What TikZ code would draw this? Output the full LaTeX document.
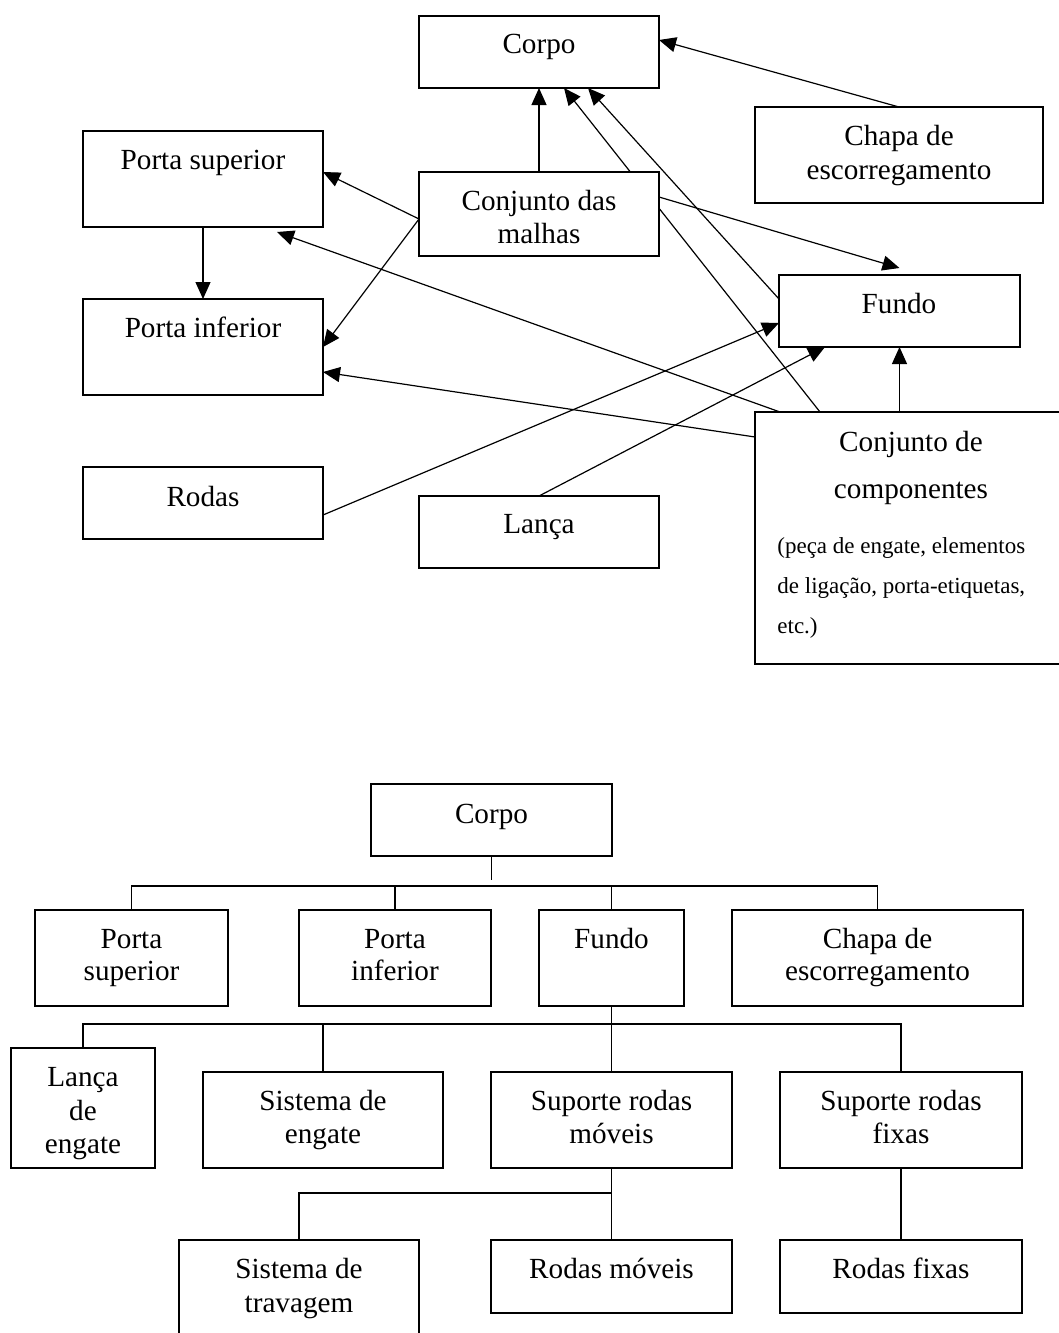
\documentclass[tikz,border=0pt]{standalone}
\usepackage{fontspec}
\setmainfont{Liberation Serif}
\usetikzlibrary{arrows.meta,calc,fit,backgrounds}

% one line of centred text, placed by its baseline
\newcommand{\putlbl}[4]{\node[lbl] (#1) at (#2,#3) {#4};}
% a framed box given by two opposite corners
\newcommand{\putbox}[5]{\node[box, fit={(#2,#3)(#4,#5)}] (#1) {};}

\begin{document}
\begin{tikzpicture}[x=0.5pt,y=-0.5pt,
  box/.style={draw, line width=0.65pt, fill=white, inner sep=0pt, outer sep=0pt},
  lbl/.style={anchor=base, inner sep=0pt, font=\fontsize{14.6pt}{17pt}\selectfont},
  small/.style={anchor=base west, inner sep=0pt, font=\fontsize{11.5pt}{14pt}\selectfont},
  link/.style={line width=0.6pt, -{Triangle[length=8.5pt,width=7.5pt]}},
  tree/.style={line width=0.55pt},
]
\useasboundingbox (0,0) rectangle (1059,1333);
\clip (0,0) rectangle (1059,1333);

% ---------------- upper diagram: relations between parts ----------------
\putbox{corpo}{419}{16}{659}{88}
\putbox{chapa}{755}{107}{1043}{203}
\putbox{psup}{83}{131}{323}{227}
\putbox{malhas}{419}{172}{659}{256}
\putbox{fundo}{779}{275}{1020}{347}
\putbox{pinf}{83}{299}{323}{395}
\putbox{rodas}{83}{467}{323}{539}
\putbox{lanca}{419}{496}{659}{568}
\putbox{comp}{755}{412}{1069}{664}

\begin{pgfonlayer}{background}
  \draw[link] (malhas.north) -- (corpo.south);
  \draw[link] (chapa.north) -- ($(corpo.east)+(0,-12)$);
  \draw[link] ($(comp.north west)+(65,0)$) -- ($(corpo.south)+(25,0)$);
  \draw[link] ($(fundo.north west)+(0,24)$) -- ($(corpo.south)+(49,0)$);
  \draw[link] ($(malhas.west)+(0,5)$) -- ($(psup.east)+(0,-7)$);
  \draw[link] ($(malhas.west)+(0,5)$) -- (pinf.east);
  \draw[link] (psup.south) -- (pinf.north);
  \draw[link] ($(comp.north west)+(25,0)$) -- ($(psup.south east)+(-46,5)$);
  \draw[link] ($(comp.north west)+(0,25)$) -- ($(pinf.east)+(0,25)$);
  \draw[link] ($(rodas.east)+(0,12)$) -- ($(fundo.west)+(0,12)$);
  \draw[link] (lanca.north) -- ($(fundo.south west)+(46,0)$);
  \draw[link] (fundo.south |- comp.north) -- (fundo.south);
  \draw[link] ($(malhas.east)+(0,-17)$) -- ($(fundo.north)+(0,-7)$);
\end{pgfonlayer}

\putlbl{t-corpo}{539}{54}{Corpo}
\putlbl{t-chapa1}{899}{145}{Chapa de}
\putlbl{t-chapa2}{899}{179}{escorregamento}
\putlbl{t-psup}{203}{169}{Porta superior}
\putlbl{t-malhas1}{539}{210}{Conjunto das}
\putlbl{t-malhas2}{539}{243}{malhas}
\putlbl{t-fundo}{899}{313}{Fundo}
\putlbl{t-pinf}{203}{337}{Porta inferior}
\putlbl{t-rodas}{203}{506}{Rodas}
\putlbl{t-lanca}{539}{533}{Lança}
\putlbl{t-comp1}{911}{451}{Conjunto de}
\putlbl{t-comp2}{911}{498}{componentes}
\node[small] (t-comp3) at (777,553) {(peça de engate, elementos};
\node[small] (t-comp4) at (777,593) {de ligação, porta-etiquetas,};
\node[small] (t-comp5) at (777,633) {etc.)};

% ---------------- lower diagram: breakdown tree ----------------
\putbox{corpoB}{371}{784}{612}{856}
\putbox{psupB}{35}{910}{228}{1006}
\putbox{pinfB}{299}{910}{491}{1006}
\putbox{fundoB}{539}{910}{684}{1006}
\putbox{chapaB}{732}{910}{1023}{1006}
\putbox{lancaB}{11}{1048}{155}{1168}
\putbox{engB}{203}{1072}{443}{1168}
\putbox{srmB}{491}{1072}{732}{1168}
\putbox{srfB}{780}{1072}{1022}{1168}
\putbox{travB}{179}{1240}{419}{1350}
\putbox{rmB}{491}{1240}{732}{1313}
\putbox{rfB}{780}{1240}{1022}{1313}

\coordinate (bus1) at (0,886);
\coordinate (bus2) at (0,1024);
\coordinate (bus3) at (0,1193);
\coordinate (stem1) at ($(corpoB.south)+(0,24)$);

\draw[tree] (corpoB.south) -- (stem1);
\draw[tree] (psupB.north) |- (bus1 -| chapaB.north) -- (chapaB.north);
\draw[tree] (pinfB.north) -- (pinfB.north |- bus1);
\draw[tree] (fundoB.north) -- (fundoB.north |- bus1);

\draw[tree] (fundoB.south) -- (fundoB.south |- bus2);
\draw[tree] (lancaB.north) |- (bus2 -| srfB.north) -- (srfB.north);
\draw[tree] (engB.north) -- (engB.north |- bus2);
\draw[tree] (srmB.north) -- (srmB.north |- bus2);

\draw[tree] (srmB.south) -- (rmB.north);
\draw[tree] (travB.north) |- (bus3 -| srmB.south);
\draw[tree] (srfB.south) -- (rfB.north);

\putlbl{u-corpo}{491.5}{823}{Corpo}
\putlbl{u-psup1}{131.5}{948}{Porta}
\putlbl{u-psup2}{131.5}{980}{superior}
\putlbl{u-pinf1}{395}{948}{Porta}
\putlbl{u-pinf2}{395}{980}{inferior}
\putlbl{u-fundo}{611.5}{948}{Fundo}
\putlbl{u-chapa1}{877.5}{948}{Chapa de}
\putlbl{u-chapa2}{877.5}{980}{escorregamento}
\putlbl{u-lanca1}{83}{1086}{Lança}
\putlbl{u-lanca2}{83}{1120}{de}
\putlbl{u-lanca3}{83}{1153}{engate}
\putlbl{u-eng1}{323}{1110}{Sistema de}
\putlbl{u-eng2}{323}{1143}{engate}
\putlbl{u-srm1}{611.5}{1110}{Suporte rodas}
\putlbl{u-srm2}{611.5}{1143}{móveis}
\putlbl{u-srf1}{901}{1110}{Suporte rodas}
\putlbl{u-srf2}{901}{1143}{fixas}
\putlbl{u-trav1}{299}{1278}{Sistema de}
\putlbl{u-trav2}{299}{1312}{travagem}
\putlbl{u-rm}{611.5}{1278}{Rodas móveis}
\putlbl{u-rf}{901}{1278}{Rodas fixas}
\end{tikzpicture}
\end{document}
